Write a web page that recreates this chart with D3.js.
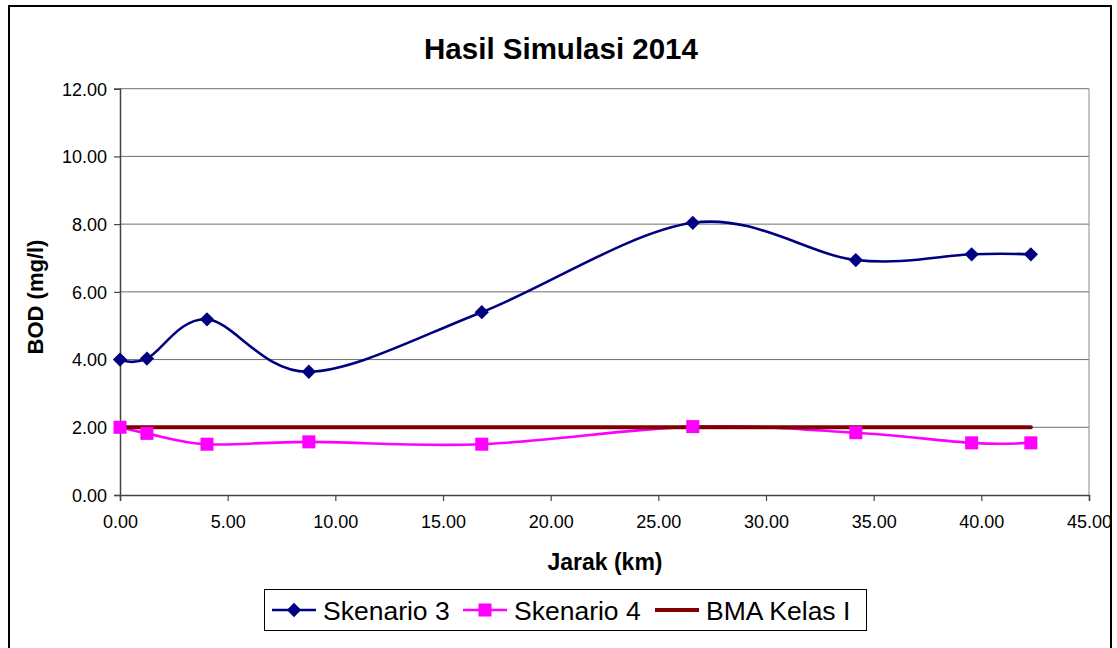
<!DOCTYPE html>
<html>
<head>
<meta charset="utf-8">
<script src="https://cdn.jsdelivr.net/npm/d3@7"></script>
<style>
  body { margin: 0; background: #fff; }
  text { font-family: "Liberation Sans", Arial, sans-serif; fill: #000; }
</style>
</head>
<body>
<div id="chart"></div>
<script>
const jarak = [0, 1.25, 4.04, 8.77, 16.8, 26.6, 34.17, 39.55, 42.3];
const skenario3 = [4.0, 4.03, 5.19, 3.64, 5.4, 8.04, 6.94, 7.11, 7.11];
const skenario4 = [2.0, 1.82, 1.5, 1.57, 1.5, 2.02, 1.84, 1.54, 1.54];
const bmaKelas1 = [2, 2, 2, 2, 2, 2, 2, 2, 2];
const xTicks = [0, 5, 10, 15, 20, 25, 30, 35, 40, 45];
const yTicks = [0, 2, 4, 6, 8, 10, 12];
const seriesNames = ["Skenario 3", "Skenario 4", "BMA Kelas I"];

const config = {
  width: 1117,
  height: 648,
  margin: { top: 88.7, right: 28, bottom: 153, left: 120 },
};

const plotW = config.width - config.margin.left - config.margin.right;
const plotH = config.height - config.margin.top - config.margin.bottom;

const svg = d3
  .select("#chart")
  .append("svg")
  .attr("width", config.width)
  .attr("height", config.height);

// outer chart frame
svg
  .append("rect")
  .attr("x", 9)
  .attr("y", 6)
  .attr("width", 1102)
  .attr("height", 660)
  .attr("fill", "none")
  .attr("stroke", "#000")
  .attr("stroke-width", 2);

const g = svg
  .append("g")
  .attr("transform", `translate(${config.margin.left},${config.margin.top})`);

const x = d3.scaleLinear().domain([0, 45]).range([0, plotW]);
const y = d3.scaleLinear().domain([0, 12]).range([plotH, 0]);

// gridlines
g.selectAll(".grid")
  .data(yTicks.filter((d) => d > 0))
  .join("line")
  .attr("x1", 0)
  .attr("x2", plotW)
  .attr("y1", (d) => y(d))
  .attr("y2", (d) => y(d))
  .attr("stroke", "#6e6e6e")
  .attr("stroke-width", 1);

// plot area right edge
g.append("line")
  .attr("x1", plotW)
  .attr("x2", plotW)
  .attr("y1", 0)
  .attr("y2", plotH)
  .attr("stroke", "#8a8a8a");

const xAxis = d3
  .axisBottom(x)
  .tickValues(xTicks)
  .tickSize(6)
  .tickPadding(14)
  .tickFormat(d3.format(".2f"));
const yAxis = d3
  .axisLeft(y)
  .tickValues(yTicks)
  .tickSize(6)
  .tickPadding(7)
  .tickFormat(d3.format(".2f"));

const xg = g.append("g").attr("transform", `translate(0,${plotH})`).call(xAxis);
const yg = g.append("g").call(yAxis);

[xg, yg].forEach((a) => {
  a.select(".domain").attr("stroke", "#444").attr("stroke-width", 1.5);
  a.selectAll(".tick line").attr("stroke", "#444").attr("stroke-width", 1.2);
  a.selectAll(".tick text")
    .attr("font-family", "Liberation Sans, Arial, sans-serif")
    .attr("font-size", 18)
    .attr("fill", "#111");
});
yg.selectAll(".tick text").attr("dy", "0.35em");

// title
svg
  .append("text")
  .attr("x", 561)
  .attr("y", 59)
  .attr("text-anchor", "middle")
  .attr("font-weight", "bold")
  .attr("font-size", 29.5)
  .text("Hasil Simulasi 2014");

// axis titles
svg
  .append("text")
  .attr("x", 605)
  .attr("y", 570)
  .attr("text-anchor", "middle")
  .attr("font-weight", "bold")
  .attr("font-size", 23)
  .text("Jarak (km)");

svg
  .append("text")
  .attr("transform", "translate(43,297) rotate(-90)")
  .attr("text-anchor", "middle")
  .attr("font-weight", "bold")
  .attr("font-size", 22)
  .text("BOD (mg/l)");

const series = [
  { name: seriesNames[0], values: skenario3, color: "#000080", width: 2.6, marker: "diamond" },
  { name: seriesNames[1], values: skenario4, color: "#ff00ff", width: 2.6, marker: "square" },
  { name: seriesNames[2], values: bmaKelas1, color: "#800000", width: 4, marker: null },
];

const line = d3
  .line()
  .x((d) => x(d[0]))
  .y((d) => y(d[1]))
  .curve(d3.curveCardinal.tension(0));

series.forEach((s) => {
  g.append("path")
    .datum(jarak.map((j, i) => [j, s.values[i]]))
    .attr("d", line)
    .attr("fill", "none")
    .attr("stroke", s.color)
    .attr("stroke-width", s.width)
    .attr("stroke-linecap", s.marker ? "butt" : "round");
});

const diamond = d3.symbol().type(d3.symbolDiamond2).size(130);
const square = d3.symbol().type(d3.symbolSquare).size(170);

series.forEach((s) => {
  if (!s.marker) return;
  g.selectAll(null)
    .data(jarak.map((j, i) => [j, s.values[i]]))
    .join("path")
    .attr("transform", (d) => `translate(${x(d[0])},${y(d[1])})`)
    .attr("d", s.marker === "diamond" ? diamond : square)
    .attr("fill", s.color);
});

// legend
const legend = svg.append("g");
legend
  .append("rect")
  .attr("x", 264.5)
  .attr("y", 589.5)
  .attr("width", 602)
  .attr("height", 41)
  .attr("fill", "#fff")
  .attr("stroke", "#000")
  .attr("stroke-width", 1);

const legendX = [272, 463, 655];
series.forEach((s, i) => {
  const lx = legendX[i];
  legend
    .append("line")
    .attr("x1", lx)
    .attr("x2", lx + 44)
    .attr("y1", 610)
    .attr("y2", 610)
    .attr("stroke", s.color)
    .attr("stroke-width", s.width);
  if (s.marker) {
    legend
      .append("path")
      .attr("transform", `translate(${lx + 22},610)`)
      .attr("d", s.marker === "diamond" ? diamond : square)
      .attr("fill", s.color);
  }
  legend
    .append("text")
    .attr("x", lx + 51)
    .attr("y", 620)
    .attr("font-size", 26.5)
    .text(s.name);
});
</script>
</body>
</html>
